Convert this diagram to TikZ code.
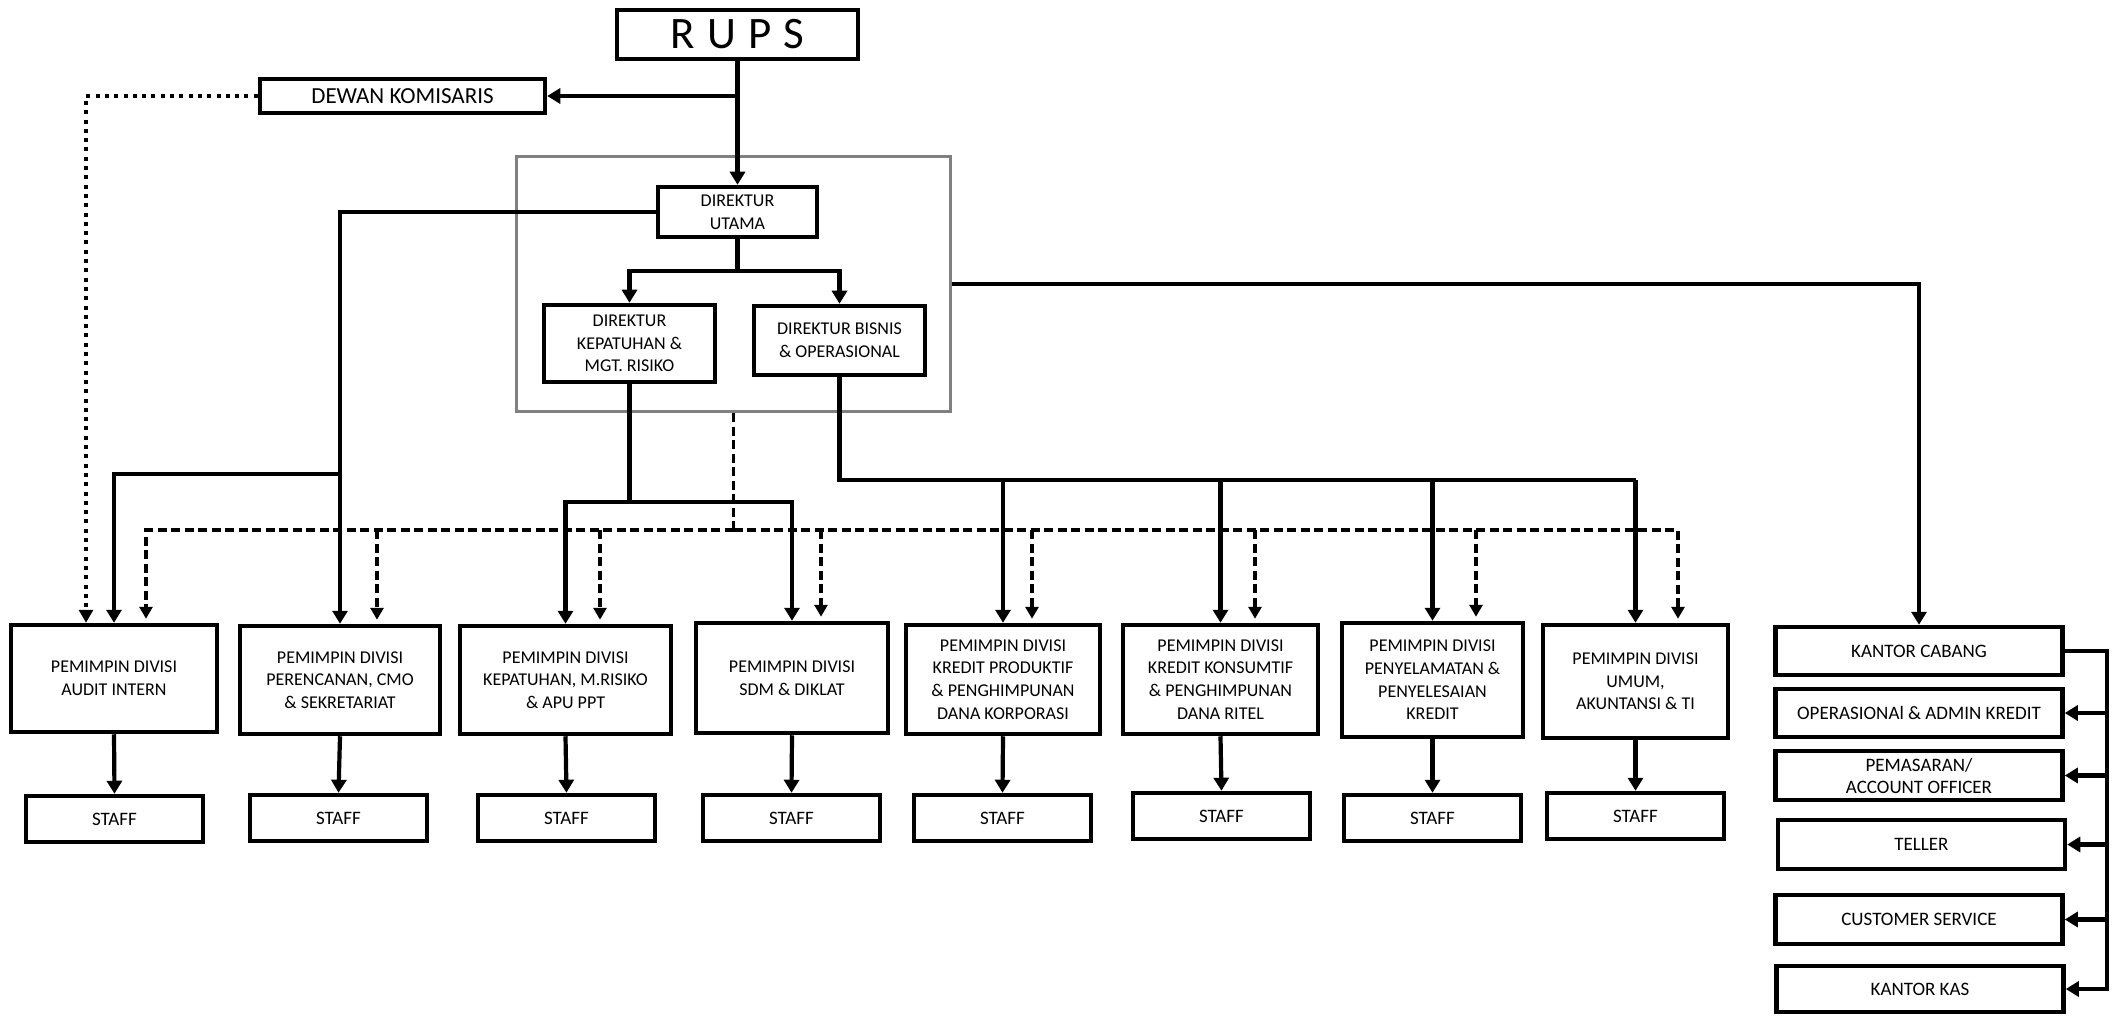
\documentclass[tikz,border=0pt]{standalone}
\usepackage{fontspec}
\setmainfont{Carlito}
\usetikzlibrary{arrows.meta,calc}
\newcommand{\divfont}{\fontsize{18}{22.7}\selectfont}
\newcommand{\stafffont}{\fontsize{19}{23}\selectfont}
\newcommand{\kcfont}{\fontsize{19}{22}\selectfont}
\tikzset{
  box/.style={draw, line width=4.5pt, align=center, inner sep=0pt, font=\divfont},
  staffbox/.style={box, minimum width=177pt, minimum height=46pt, font=\stafffont},
  kcbox/.style={box, minimum width=287pt, minimum height=48pt, font=\kcfont},
  conn/.style={line width=4.2pt},
  arr/.style={conn, -{Triangle[length=13pt,width=15pt]}},
  dsh/.style={line width=3.5pt, dash pattern=on 9pt off 4.5pt},
  dsharr/.style={dsh, -{Triangle[length=12pt,width=13pt]}},
  dotarr/.style={line width=4.2pt, dash pattern=on 4pt off 5.3pt, -{Triangle[length=13pt,width=14pt]}}
}
\begin{document}
\begin{tikzpicture}[x=1pt,y=-1pt]
\useasboundingbox (0,0) rectangle (2118,1016);
% top
\node[box, minimum width=241pt, minimum height=49pt, font=\fontsize{45}{45}\selectfont] (rups) at (737.5,34.5) {R\hspace{12pt}U\hspace{12pt}P\hspace{12pt}S};
\node[box, minimum width=285pt, minimum height=34pt, font=\fontsize{23}{25}\selectfont] (dk) at (402.5,96) {DEWAN KOMISARIS};
\node[draw=gray, line width=3pt, minimum width=434pt, minimum height=255pt, inner sep=0pt] (grp) at (733.5,284) {};
\node[box, minimum width=159pt, minimum height=50pt] (du) at (737.5,212) {DIREKTUR\\UTAMA};
\node[box, minimum width=171pt, minimum height=77pt] (kep) at (629.5,343.5) {DIREKTUR\\KEPATUHAN \&\\MGT. RISIKO};
\node[box, minimum width=171pt, minimum height=69pt] (bis) at (839.5,340.5) {DIREKTUR BISNIS\\\& OPERASIONAL};
% divisions
\node[box, minimum width=206pt, minimum height=107pt] (audit) at (114,678.5) {PEMIMPIN DIVISI\\AUDIT INTERN};
\node[box, minimum width=200pt, minimum height=108pt] (renc) at (340,680) {PEMIMPIN DIVISI\\PERENCANAN, CMO\\\& SEKRETARIAT};
\node[box, minimum width=211pt, minimum height=108pt] (dkep) at (565.5,680) {PEMIMPIN DIVISI\\KEPATUHAN, M.RISIKO\\\& APU PPT};
\node[box, minimum width=192pt, minimum height=110pt] (sdm) at (792,678) {PEMIMPIN DIVISI\\SDM \& DIKLAT};
\node[box, minimum width=194pt, minimum height=109pt] (kprod) at (1003,679.5) {PEMIMPIN DIVISI\\KREDIT PRODUKTIF\\\& PENGHIMPUNAN\\DANA KORPORASI};
\node[box, minimum width=195pt, minimum height=109pt] (kkons) at (1220.5,679.5) {PEMIMPIN DIVISI\\KREDIT KONSUMTIF\\\& PENGHIMPUNAN\\DANA RITEL};
\node[box, minimum width=181pt, minimum height=114pt] (peny) at (1432.5,680) {PEMIMPIN DIVISI\\PENYELAMATAN \&\\PENYELESAIAN\\KREDIT};
\node[box, minimum width=185pt, minimum height=113pt] (umum) at (1635.5,681.5) {PEMIMPIN DIVISI\\UMUM,\\AKUNTANSI \& TI};
% staff
\node[staffbox] (s1) at (114.5,819) {STAFF};
\node[staffbox] (s2) at (338.5,818) {STAFF};
\node[staffbox] (s3) at (566.5,818) {STAFF};
\node[staffbox] (s4) at (791.5,818) {STAFF};
\node[staffbox] (s5) at (1002.5,818) {STAFF};
\node[staffbox] (s6) at (1221.5,816) {STAFF};
\node[staffbox] (s7) at (1432.5,818) {STAFF};
\node[staffbox] (s8) at (1635.5,816) {STAFF};
% branch office column
\node[kcbox] (kc) at (1919,651) {KANTOR CABANG};
\node[kcbox] (ops) at (1919,713) {OPERASIONAl \& ADMIN KREDIT};
\node[kcbox, minimum height=49pt] (pem) at (1919,775.5) {PEMASARAN/\\ACCOUNT OFFICER};
\node[kcbox, minimum height=49pt] (tel) at (1921.5,844.5) {TELLER};
\node[kcbox, minimum height=49pt] (cs) at (1919,919.5) {CUSTOMER SERVICE};
\node[kcbox, minimum height=46pt] (kas) at (1920,989) {KANTOR KAS};
% helper levels
\coordinate (lvA) at (0,474);
\coordinate (lvB) at (0,271);
\coordinate (lvC) at (0,502);
\coordinate (lvD) at (0,480);
\coordinate (lvE) at (0,530);
\coordinate (rx) at (2107,0);
% connectors
\draw[arr] (rups.south) -- (du.north);
\draw[arr] (rups.south |- dk.east) -- (dk.east);
\draw[dotarr] (dk.west) -| ([xshift=-28pt]audit.north);
\draw[arr] (du.west) -| (renc.north);
\draw[arr] (renc.north |- lvA) -| (audit.north);
\draw[conn] (du.south) -- (du.south |- lvB);
\draw[arr] (du.south |- lvB) -| (kep.north);
\draw[arr] (du.south |- lvB) -| (bis.north);
\draw[conn] (kep.south) -- (kep.south |- lvC);
\draw[arr] (kep.south |- lvC) -| (dkep.north);
\draw[arr] (kep.south |- lvC) -| (sdm.north);
\draw[conn] (bis.south) |- (umum.north |- lvD);
\draw[arr] (kprod.north |- lvD) -- (kprod.north);
\draw[arr] (kkons.north |- lvD) -- (kkons.north);
\draw[arr] (peny.north |- lvD) -- (peny.north);
\draw[arr] (umum.north |- lvD) -- (umum.north);
% dashed coordination lines
\draw[dsh] (grp.south) -- (grp.south |- lvE);
\draw[dsharr] (grp.south |- lvE) -| ([xshift=32pt,yshift=4pt]audit.north);
\draw[dsharr] (grp.south |- lvE) -| ([xshift=42.5pt,yshift=4pt]umum.north);
\draw[dsharr] ([xshift=37pt]renc.north |- lvE) -- ([xshift=37pt,yshift=4pt]renc.north);
\draw[dsharr] ([xshift=34.5pt]dkep.north |- lvE) -- ([xshift=34.5pt,yshift=4pt]dkep.north);
\draw[dsharr] ([xshift=29pt]sdm.north |- lvE) -- ([xshift=29pt,yshift=4pt]sdm.north);
\draw[dsharr] ([xshift=29pt]kprod.north |- lvE) -- ([xshift=29pt,yshift=4pt]kprod.north);
\draw[dsharr] ([xshift=34.5pt]kkons.north |- lvE) -- ([xshift=34.5pt,yshift=4pt]kkons.north);
\draw[dsharr] ([xshift=43.5pt]peny.north |- lvE) -- ([xshift=43.5pt,yshift=4pt]peny.north);
% staff arrows
\draw[arr] (audit.south) -- (s1.north);
\draw[arr] (renc.south) -- (s2.north);
\draw[arr] (dkep.south) -- (s3.north);
\draw[arr] (sdm.south) -- (s4.north);
\draw[arr] (kprod.south) -- (s5.north);
\draw[arr] (kkons.south) -- (s6.north);
\draw[arr] (peny.south) -- (s7.north);
\draw[arr] (umum.south) -- (s8.north);
% branch
\draw[arr] (grp.east) -| (kc.north);
\draw[arr] (kc.east) -- (kc.east -| rx) |- (kas.east);
\draw[arr] (ops.east -| rx) -- (ops.east);
\draw[arr] (pem.east -| rx) -- (pem.east);
\draw[arr] (tel.east -| rx) -- (tel.east);
\draw[arr] (cs.east -| rx) -- (cs.east);
\end{tikzpicture}
\end{document}
